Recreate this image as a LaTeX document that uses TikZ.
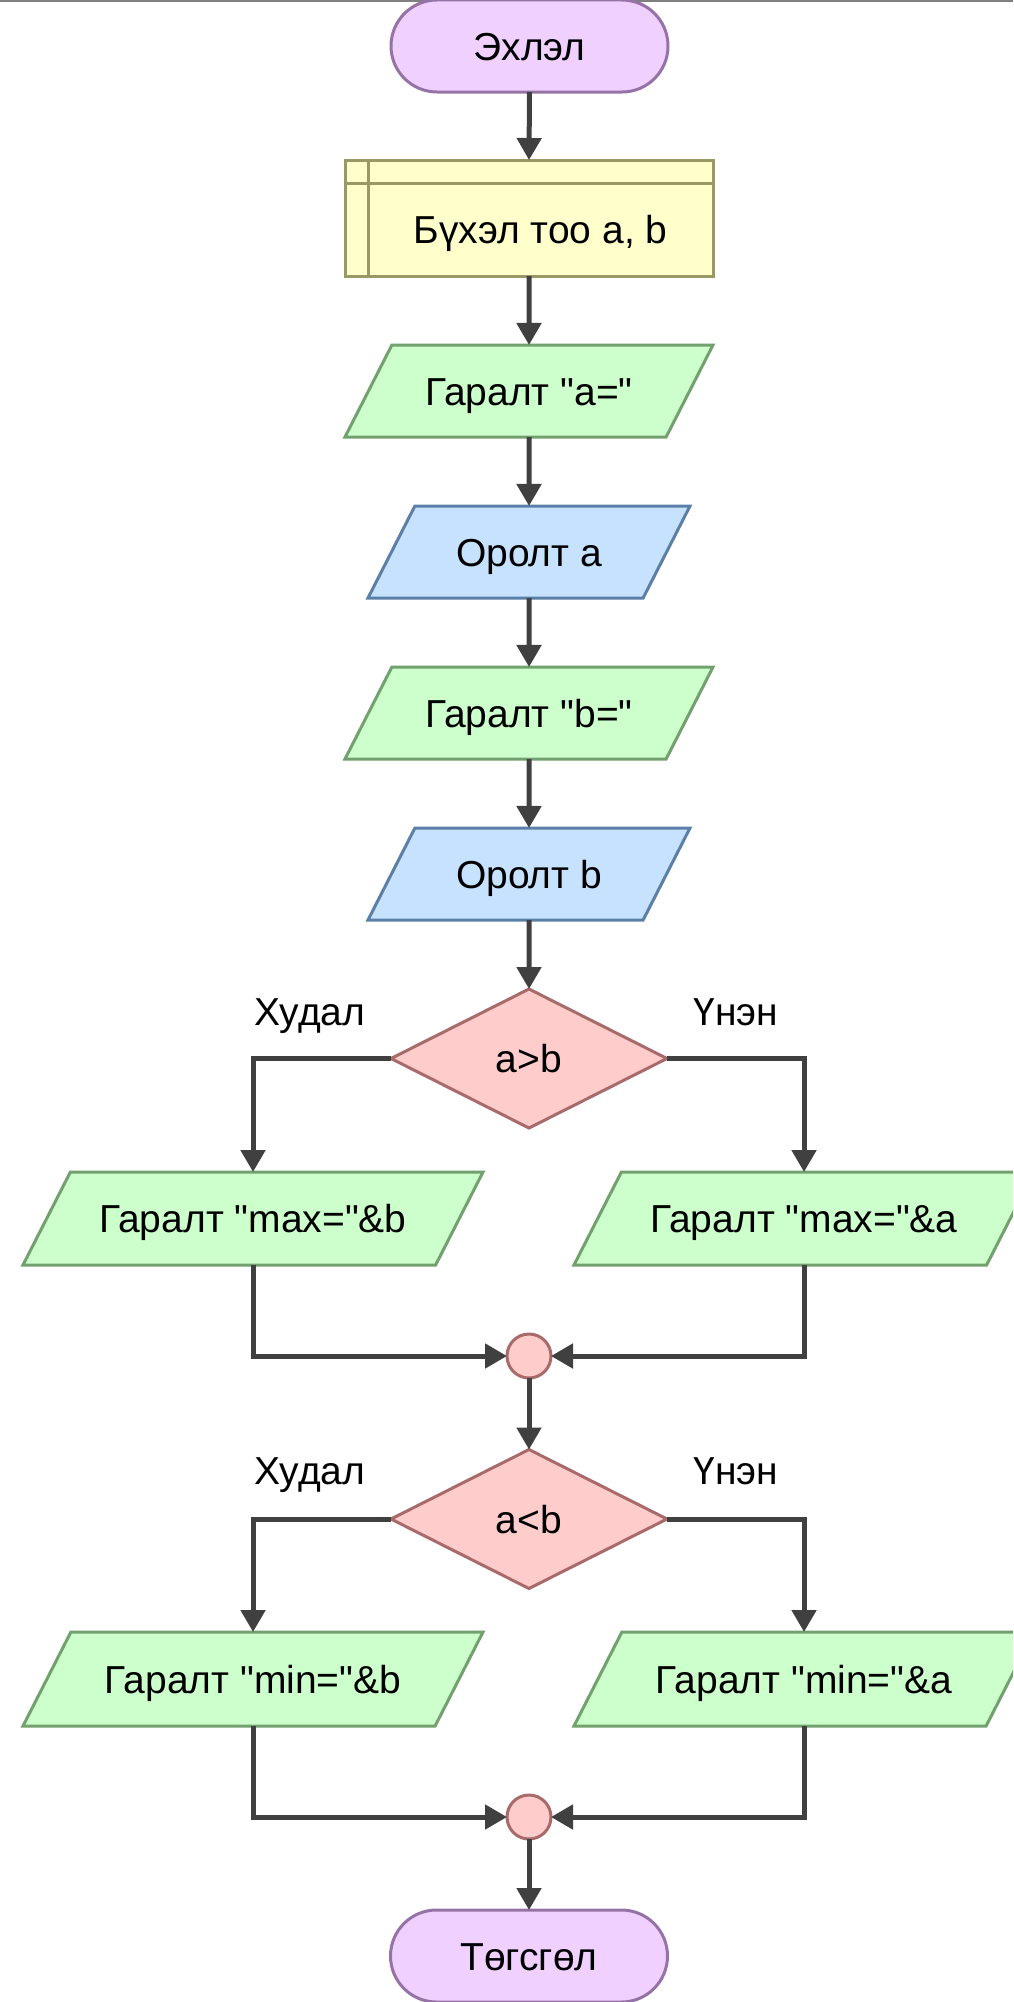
\documentclass[tikz,border=0pt]{standalone}
\usepackage{fontspec}
\setmainfont{Liberation Sans}[Ligatures=TeXOff]
\usetikzlibrary{shapes.geometric,arrows.meta,calc}
\definecolor{lnc}{HTML}{404040}
\definecolor{termf}{HTML}{F0D0FF}\definecolor{termd}{HTML}{9673A6}
\definecolor{declf}{HTML}{FFFFCC}\definecolor{decld}{HTML}{999966}
\definecolor{outf}{HTML}{CCFFCC}\definecolor{outd}{HTML}{72A06E}
\definecolor{inf}{HTML}{C6E2FF}\definecolor{ind}{HTML}{5B7FA6}
\definecolor{decf}{HTML}{FFCCCC}\definecolor{decd}{HTML}{A86A6A}
\begin{document}
\begin{tikzpicture}[x=1pt,y=1pt,
  base/.style={line width=3pt,inner sep=0pt,outer sep=0pt,font=\fontsize{39}{45}\selectfont,text height=28pt,text depth=0pt},
  term/.style={base,rectangle,rounded corners=46pt,draw=termd,fill=termf,minimum width=277pt,minimum height=92pt},
  declbox/.style={base,rectangle,draw=decld,fill=declf,minimum width=368pt,minimum height=116pt},
  outp/.style={base,trapezium,trapezium left angle=63,trapezium right angle=117,trapezium stretches body,draw=outd,fill=outf,inner ysep=32pt},
  inp/.style={outp,draw=ind,fill=inf},
  dec/.style={base,diamond,draw=decd,fill=decf,minimum width=276pt,minimum height=139pt},
  merge/.style={circle,line width=3pt,draw=decd,fill=decf,minimum size=44pt,inner sep=0pt,outer sep=0pt},
  lbl/.style={font=\fontsize{39}{45}\selectfont,inner sep=0pt,anchor=base},
  conn/.style={line width=5pt,draw=lnc,-{Triangle[length=22pt,width=24pt]}}]
\useasboundingbox (0,0) rectangle (1013,-2002);
\clip (0,0) rectangle (1013,-2002);
\draw[line width=2.5pt,draw=gray] (0,-1) coordinate (tl) -- (1013,-1) coordinate (tr);
\node[term] (start) at (529.5,-46) {Эхлэл};
\node[declbox] (decl) at (529,-218) {\hspace*{23pt}\raisebox{-11pt}[\height][\depth]{Бүхэл тоо a, b}};
\draw[line width=3pt,draw=decld] ($(decl.north west)+(23,0)$) -- ($(decl.south west)+(23,0)$);
\draw[line width=3pt,draw=decld] ($(decl.north west)+(0,-23)$) -- ($(decl.north east)+(0,-23)$);
\node[outp,minimum width=368pt] (outa) at (529,-391) {Гаралт "a="};
\node[inp,minimum width=322pt] (ina) at (529,-552) {Оролт a};
\node[outp,minimum width=368pt] (outb) at (529,-713) {Гаралт "b="};
\node[inp,minimum width=322pt] (inb) at (529,-874) {Оролт b};
\node[dec] (d1) at (529,-1058.5) {a>b};
\node[outp,minimum width=460pt,inner ysep=32.5pt] (maxb) at (253,-1218.5) {Гаралт "max="\&b};
\node[outp,minimum width=460pt,inner ysep=32.5pt] (maxa) at (804,-1218.5) {Гаралт "max="\&a};
\node[merge] (m1) at (529,-1356) {};
\node[dec] (d2) at (529,-1519) {a<b};
\node[outp,minimum width=460pt,inner ysep=33pt] (minb) at (253,-1679) {Гаралт "min="\&b};
\node[outp,minimum width=460pt,inner ysep=33pt] (mina) at (804,-1679) {Гаралт "min="\&a};
\node[merge] (m2) at (529,-1817) {};
\node[term] (end) at (529,-1956) {Төгсгөл};
\node[lbl] (f1) at (310,-1025) {Худал};
\node[lbl] (t1) at (736,-1025) {Үнэн};
\node[lbl] (f2) at (310,-1484) {Худал};
\node[lbl] (t2) at (736,-1484) {Үнэн};
\draw[conn] (start.south) -- (decl.north);
\draw[conn] (decl.south) -- (outa.north);
\draw[conn] (outa.south) -- (ina.north);
\draw[conn] (ina.south) -- (outb.north);
\draw[conn] (outb.south) -- (inb.north);
\draw[conn] (inb.south) -- (d1.north);
\draw[conn] (d1.west) -| (maxb.north);
\draw[conn] (d1.east) -| (maxa.north);
\draw[conn] (maxb.south) |- (m1.west);
\draw[conn] (maxa.south) |- (m1.east);
\draw[conn] (m1.south) -- (d2.north);
\draw[conn] (d2.west) -| (minb.north);
\draw[conn] (d2.east) -| (mina.north);
\draw[conn] (minb.south) |- (m2.west);
\draw[conn] (mina.south) |- (m2.east);
\draw[conn] (m2.south) -- (end.north);
\end{tikzpicture}
\end{document}
